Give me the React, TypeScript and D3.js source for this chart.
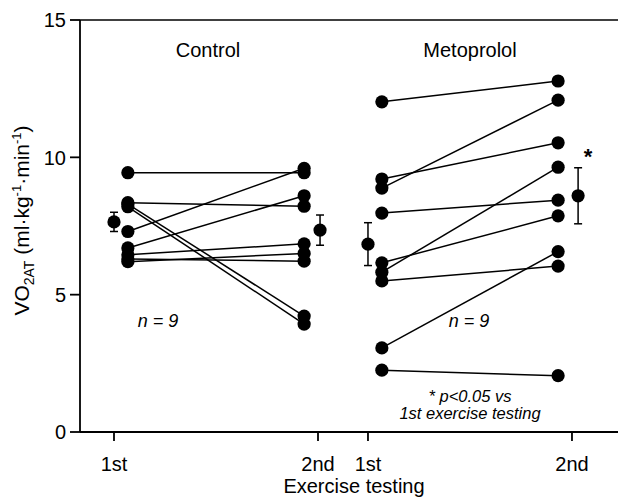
import React from "react";
import * as d3 from "d3";

const groups = ["Control", "Metoprolol"];
const tickLabels = ["1st", "2nd", "1st", "2nd"];
const tickPositions = [1, 2, 2.245, 3.245];
const yTicks = [0, 5, 10, 15];

const control1st = [9.44, 8.35, 8.3, 8.2, 7.3, 6.7, 6.45, 6.2, 6.3];
const control2nd = [9.44, 8.22, 4.22, 3.93, 9.6, 8.6, 6.85, 6.5, 6.22];
const meto1st = [12.02, 9.21, 8.88, 7.97, 6.16, 5.82, 5.5, 3.06, 2.25];
const meto2nd = [12.78, 10.53, 12.08, 8.44, 7.87, 9.64, 6.04, 6.57, 2.05];

const controlMean = [7.65, 7.35];
const controlErr = [0.35, 0.55];
const metoMean = [6.84, 8.6];
const metoErr = [0.78, 1.02];

export default function App() {
  const W = 618, H = 498;
  const x = d3.scaleLinear().domain([1, 2]).range([114, 318]);
  const y = d3.scaleLinear().domain([0, 15]).range([432, 20]);
  const font = "'Liberation Sans', Arial, sans-serif";

  const panels = [
    { a: control1st, b: control2nd, mean: controlMean, err: controlErr, t1: tickPositions[0], t2: tickPositions[1], m2off: 0.01 },
    { a: meto1st, b: meto2nd, mean: metoMean, err: metoErr, t1: tickPositions[2], t2: tickPositions[3], m2off: 0.03 },
  ];
  const off = 0.068;
  const r = 6.6;

  return (
    <svg width={W} height={H} style={{ position: "absolute", left: 0, top: 0, background: "#fff" }} fontFamily={font}>
      {/* axes */}
      <line x1={80} x2={80} y1={y(15)} y2={y(0)} stroke="#000" strokeWidth={1.8} />
      <line x1={80} x2={618} y1={y(0)} y2={y(0)} stroke="#000" strokeWidth={1.8} />
      <line x1={80} x2={618} y1={y(15)} y2={y(15)} stroke="#000" strokeWidth={1.5} />
      {yTicks.map((t) => (
        <g key={t}>
          <line x1={70} x2={80} y1={y(t)} y2={y(t)} stroke="#000" strokeWidth={1.8} />
          <text x={66} y={y(t)} dy="0.36em" textAnchor="end" fontSize={20}>{t}</text>
        </g>
      ))}
      {tickPositions.map((p, i) => (
        <g key={i}>
          <line x1={x(p)} x2={x(p)} y1={y(0)} y2={y(0) + 9} stroke="#000" strokeWidth={1.8} />
          <text x={x(p)} y={471} textAnchor="middle" fontSize={20}>{tickLabels[i]}</text>
        </g>
      ))}
      <text x={354} y={493} textAnchor="middle" fontSize={20}>Exercise testing</text>
      <text transform={`translate(29,${y(7.7)}) rotate(-90)`} textAnchor="middle" fontSize={21}>
        VO<tspan fontSize={14} dy={5}>2AT</tspan>
        <tspan dy={-5}> (ml·kg</tspan>
        <tspan fontSize={13} dy={-8}>-1</tspan>
        <tspan dy={8}>·min</tspan>
        <tspan fontSize={13} dy={-8}>-1</tspan>
        <tspan dy={8}>)</tspan>
      </text>

      {/* group labels */}
      <text x={208} y={57} textAnchor="middle" fontSize={20}>{groups[0]}</text>
      <text x={470} y={57} textAnchor="middle" fontSize={20}>{groups[1]}</text>

      {panels.map((p, gi) => (
        <g key={gi}>
          {p.a.map((v, i) => (
            <line key={"l" + i} x1={x(p.t1 + off)} x2={x(p.t2 - off)} y1={y(v)} y2={y(p.b[i])} stroke="#000" strokeWidth={1.5} />
          ))}
          {p.a.map((v, i) => (
            <circle key={"a" + i} cx={x(p.t1 + off)} cy={y(v)} r={r} fill="#000" />
          ))}
          {p.b.map((v, i) => (
            <circle key={"b" + i} cx={x(p.t2 - off)} cy={y(v)} r={r} fill="#000" />
          ))}
          {[p.t1, p.t2 + p.m2off].map((t, k) => {
            const cx = x(t);
            const m = p.mean[k], e = p.err[k];
            return (
              <g key={"m" + k}>
                <line x1={cx} x2={cx} y1={y(m + e)} y2={y(m - e)} stroke="#000" strokeWidth={1.5} />
                <line x1={cx - 4} x2={cx + 4} y1={y(m + e)} y2={y(m + e)} stroke="#000" strokeWidth={1.5} />
                <line x1={cx - 4} x2={cx + 4} y1={y(m - e)} y2={y(m - e)} stroke="#000" strokeWidth={1.5} />
                <circle cx={cx} cy={y(m)} r={r} fill="#000" />
              </g>
            );
          })}
        </g>
      ))}

      <text x={588} y={164} textAnchor="middle" fontSize={22} fontWeight="bold">*</text>
      <text x={158} y={327} textAnchor="middle" fontSize={18} fontStyle="italic">n = 9</text>
      <text x={469} y={327} textAnchor="middle" fontSize={18} fontStyle="italic">n = 9</text>
      <text x={470} y={402} textAnchor="middle" fontSize={16.5} fontStyle="italic">* p&lt;0.05 vs</text>
      <text x={470} y={419} textAnchor="middle" fontSize={16.5} fontStyle="italic">1st exercise testing</text>
    </svg>
  );
}
